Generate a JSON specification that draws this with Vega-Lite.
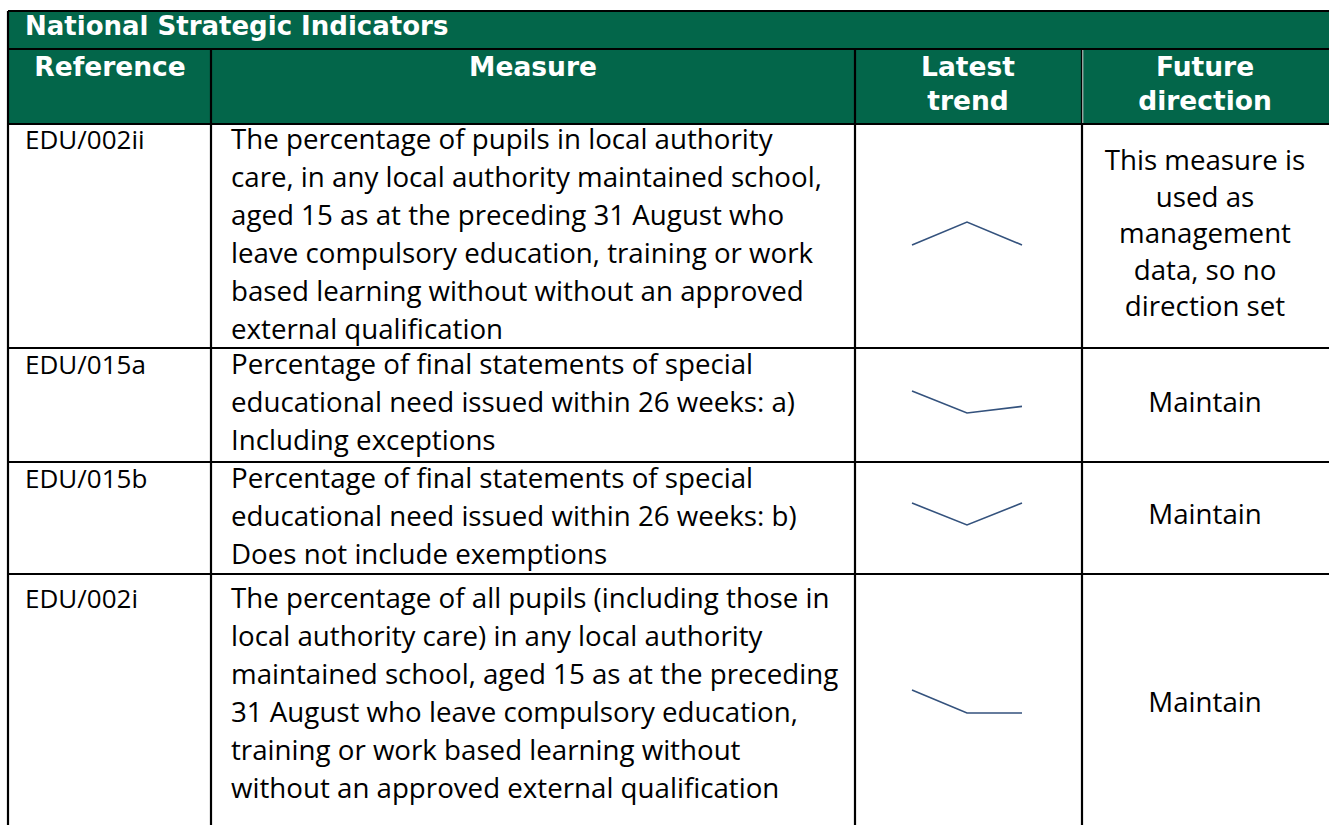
{
  "$schema": "https://vega.github.io/schema/vega-lite/v6.json",
  "width": 1321,
  "height": 814,
  "autosize": {"type": "none"},
  "padding": {"left": 8, "top": 11, "right": 0, "bottom": 0},
  "background": "white",
  "config": {"view": {"stroke": null}},
  "datasets": {
    "indicators": [
      {"row": 2, "ref": "EDU/002ii", "measure": "The percentage of pupils in local authority\ncare, in any local authority maintained school,\naged 15 as at the preceding 31 August who\nleave compulsory education, training or work\nbased learning without without an approved\nexternal qualification", "direction": "This measure is\nused as\nmanagement\ndata, so no\ndirection set"},
      {"row": 3, "ref": "EDU/015a", "measure": "Percentage of final statements of special\neducational need issued within 26 weeks: a)\nIncluding exceptions", "direction": "Maintain"},
      {"row": 4, "ref": "EDU/015b", "measure": "Percentage of final statements of special\neducational need issued within 26 weeks: b)\nDoes not include exemptions", "direction": "Maintain"},
      {"row": 5, "ref": "EDU/002i", "measure": "The percentage of all pupils (including those in\nlocal authority care) in any local authority\nmaintained school, aged 15 as at the preceding\n31 August who leave compulsory education,\ntraining or work based learning without\nwithout an approved external qualification", "direction": "Maintain"}
    ],
    "trend": [
      {"row": 2, "t": 1, "v": 0}, {"row": 2, "t": 2, "v": 1}, {"row": 2, "t": 3, "v": 0},
      {"row": 3, "t": 1, "v": 1}, {"row": 3, "t": 2, "v": 0}, {"row": 3, "t": 3, "v": 0.3},
      {"row": 4, "t": 1, "v": 1}, {"row": 4, "t": 2, "v": 0}, {"row": 4, "t": 3, "v": 1},
      {"row": 5, "t": 1, "v": 1}, {"row": 5, "t": 2, "v": 0}, {"row": 5, "t": 3, "v": 0}
    ],
    "headers": [
      {"col": 0, "label": "Reference"},
      {"col": 1, "label": "Measure"},
      {"col": 2, "label": "Latest\ntrend"},
      {"col": 3, "label": "Future\ndirection"}
    ],
    "rowEdges": [{"e": 0}, {"e": 1}, {"e": 2}, {"e": 3}, {"e": 4}, {"e": 5}],
    "colEdges": [{"c": 0, "top": 0}, {"c": 1, "top": 1}, {"c": 2, "top": 1}, {"c": 3, "top": 1}],
    "title": [{"title": "National Strategic Indicators"}]
  },
  "resolve": {"scale": {"x": "independent", "y": "independent"}},
  "layer": [
    {
      "data": {"name": "title"},
      "mark": {"type": "rect", "fill": "#03664a"},
      "encoding": {
        "x": {"datum": 0, "type": "quantitative", "scale": {"domain": [0, 1, 2, 3, 4], "range": [0, 203, 847, 1074, 1330], "nice": false, "zero": false}, "axis": null},
        "x2": {"datum": 4},
        "y": {"datum": 0, "type": "quantitative", "scale": {"domain": [0, 1, 2, 3, 4, 5, 6], "range": [0, 38, 113, 337, 451, 563, 820], "nice": false, "zero": false}, "axis": null},
        "y2": {"datum": 2}
      }
    },
    {
      "data": {"name": "rowEdges"},
      "mark": {"type": "rule", "stroke": "black", "strokeWidth": 2.2},
      "encoding": {
        "x": {"datum": 0, "type": "quantitative", "scale": {"domain": [0, 1, 2, 3, 4], "range": [0, 203, 847, 1074, 1330], "nice": false, "zero": false}, "axis": null},
        "x2": {"datum": 4},
        "y": {"field": "e", "type": "quantitative", "scale": {"domain": [0, 1, 2, 3, 4, 5, 6], "range": [0, 38, 113, 337, 451, 563, 820], "nice": false, "zero": false}, "axis": null}
      }
    },
    {
      "data": {"name": "colEdges"},
      "mark": {"type": "rule", "stroke": "black", "strokeWidth": 2.2},
      "encoding": {
        "x": {"field": "c", "type": "quantitative", "scale": {"domain": [0, 1, 2, 3, 4], "range": [0, 203, 847, 1074, 1330], "nice": false, "zero": false}, "axis": null},
        "y": {"field": "top", "type": "quantitative", "scale": {"domain": [0, 1, 2, 3, 4, 5, 6], "range": [0, 38, 113, 337, 451, 563, 820], "nice": false, "zero": false}, "axis": null},
        "y2": {"datum": 6}
      }
    },
    {
      "data": {"name": "colEdges"},
      "transform": [{"filter": "datum.c === 3"}],
      "mark": {"type": "rule", "stroke": "#d8e6e0", "strokeWidth": 1},
      "encoding": {
        "x": {"field": "c", "type": "quantitative", "scale": {"domain": [0, 1, 2, 3, 4], "range": [0, 203, 847, 1074.8, 1330], "nice": false, "zero": false}, "axis": null},
        "y": {"field": "top", "type": "quantitative", "scale": {"domain": [0, 1, 2, 3, 4, 5, 6], "range": [0, 39, 112, 337, 451, 563, 820], "nice": false, "zero": false}, "axis": null},
        "y2": {"datum": 2}
      }
    },
    {
      "data": {"name": "title"},
      "mark": {"type": "text", "align": "left", "baseline": "alphabetic", "font": "DejaVu Sans", "fontWeight": "bold", "fontSize": 26, "fill": "white", "dx": 17, "dy": 24},
      "encoding": {
        "x": {"datum": 0, "type": "quantitative", "scale": {"domain": [0, 1, 2, 3, 4], "range": [0, 203, 847, 1074, 1330], "nice": false, "zero": false}, "axis": null},
        "y": {"datum": 0, "type": "quantitative", "scale": {"domain": [0, 1, 2, 3, 4, 5, 6], "range": [0, 38, 113, 337, 451, 563, 820], "nice": false, "zero": false}, "axis": null},
        "text": {"field": "title"}
      }
    },
    {
      "data": {"name": "headers"},
      "mark": {"type": "text", "align": "center", "baseline": "alphabetic", "font": "DejaVu Sans", "fontWeight": "bold", "fontSize": 26.5, "fill": "white", "lineBreak": "\n", "lineHeight": 34, "dy": 27},
      "encoding": {
        "x": {"field": "col", "type": "quantitative", "scale": {"domain": [0, 1, 2, 3], "range": [102, 525, 960, 1197], "nice": false, "zero": false}, "axis": null},
        "y": {"datum": 1, "type": "quantitative", "scale": {"domain": [0, 1, 2, 3, 4, 5, 6], "range": [0, 38, 113, 337, 451, 563, 820], "nice": false, "zero": false}, "axis": null},
        "text": {"field": "label"}
      }
    },
    {
      "data": {"name": "indicators"},
      "mark": {"type": "text", "align": "left", "baseline": "alphabetic", "font": "Open Sans", "fontSize": 26, "fill": "black", "dx": 17, "dy": 25},
      "encoding": {
        "x": {"datum": 0, "type": "quantitative", "scale": {"domain": [0, 1, 2, 3, 4], "range": [0, 203, 847, 1074, 1330], "nice": false, "zero": false}, "axis": null},
        "y": {"field": "row", "type": "quantitative", "scale": {"domain": [0, 1, 2, 3, 4, 5, 6], "range": [0, 38, 113, 338, 452, 572, 820], "nice": false, "zero": false}, "axis": null},
        "text": {"field": "ref"}
      }
    },
    {
      "data": {"name": "indicators"},
      "mark": {"type": "text", "align": "left", "baseline": "alphabetic", "font": "Open Sans", "fontSize": 27.7, "fill": "black", "lineBreak": "\n", "lineHeight": 38, "dx": 20, "dy": 25},
      "encoding": {
        "x": {"datum": 1, "type": "quantitative", "scale": {"domain": [0, 1, 2, 3, 4], "range": [0, 203, 847, 1074, 1330], "nice": false, "zero": false}, "axis": null},
        "y": {"field": "row", "type": "quantitative", "scale": {"domain": [0, 1, 2, 3, 4, 5, 6], "range": [0, 38, 113, 338, 452, 572, 820], "nice": false, "zero": false}, "axis": null},
        "text": {"field": "measure"}
      }
    },
    {
      "data": {"name": "indicators"},
      "mark": {"type": "text", "align": "center", "baseline": "middle", "font": "Open Sans", "fontSize": 27.7, "fill": "black", "lineBreak": "\n", "lineHeight": 36.5},
      "encoding": {
        "x": {"datum": 3, "type": "quantitative", "scale": {"domain": [0, 1, 2, 3], "range": [102, 525, 960, 1197], "nice": false, "zero": false}, "axis": null},
        "y": {"field": "row", "type": "quantitative", "scale": {"domain": [2, 3, 4, 5], "range": [151, 393, 505, 693], "nice": false, "zero": false}, "axis": null},
        "text": {"field": "direction"}
      }
    },
    {
      "data": {"name": "trend"},
      "transform": [{"filter": "datum.row === 2"}],
      "mark": {"type": "line", "stroke": "#34527d", "strokeWidth": 1.6},
      "encoding": {
        "x": {"field": "t", "type": "quantitative", "scale": {"domain": [1, 3], "range": [904, 1014], "nice": false, "zero": false}, "axis": null},
        "y": {"field": "v", "type": "quantitative", "scale": {"domain": [0, 1], "range": [234, 211], "nice": false, "zero": false}, "axis": null}
      }
    },
    {
      "data": {"name": "trend"},
      "transform": [{"filter": "datum.row === 3"}],
      "mark": {"type": "line", "stroke": "#34527d", "strokeWidth": 1.6},
      "encoding": {
        "x": {"field": "t", "type": "quantitative", "scale": {"domain": [1, 3], "range": [904, 1014], "nice": false, "zero": false}, "axis": null},
        "y": {"field": "v", "type": "quantitative", "scale": {"domain": [0, 1], "range": [402, 380], "nice": false, "zero": false}, "axis": null}
      }
    },
    {
      "data": {"name": "trend"},
      "transform": [{"filter": "datum.row === 4"}],
      "mark": {"type": "line", "stroke": "#34527d", "strokeWidth": 1.6},
      "encoding": {
        "x": {"field": "t", "type": "quantitative", "scale": {"domain": [1, 3], "range": [904, 1014], "nice": false, "zero": false}, "axis": null},
        "y": {"field": "v", "type": "quantitative", "scale": {"domain": [0, 1], "range": [514, 492], "nice": false, "zero": false}, "axis": null}
      }
    },
    {
      "data": {"name": "trend"},
      "transform": [{"filter": "datum.row === 5"}],
      "mark": {"type": "line", "stroke": "#34527d", "strokeWidth": 1.6},
      "encoding": {
        "x": {"field": "t", "type": "quantitative", "scale": {"domain": [1, 3], "range": [904, 1014], "nice": false, "zero": false}, "axis": null},
        "y": {"field": "v", "type": "quantitative", "scale": {"domain": [0, 1], "range": [702, 679], "nice": false, "zero": false}, "axis": null}
      }
    }
  ]
}
